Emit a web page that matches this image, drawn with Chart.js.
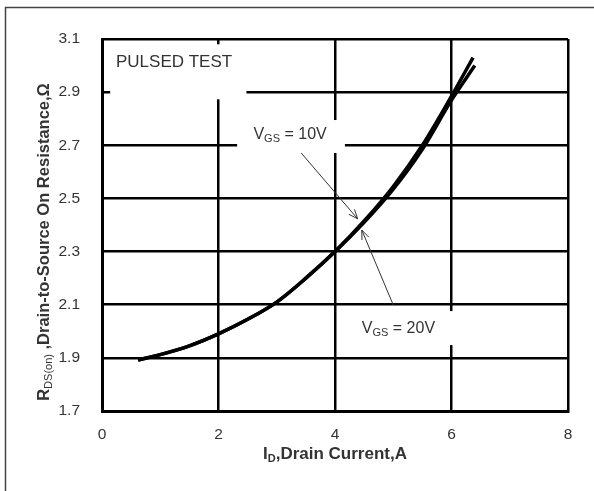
<!DOCTYPE html>
<html>
<head>
<meta charset="utf-8">
<script src="https://cdn.jsdelivr.net/npm/chart.js@4/dist/chart.umd.min.js"></script>
<style>
  html, body { margin: 0; padding: 0; background: #fff; }
  #wrap { width: 594px; height: 491px; }
</style>
</head>
<body>
<div id="wrap"><canvas id="chart" width="594" height="491"></canvas></div>
<script>
// Drain current (A) and on-resistance (ohm)
const currentVgs10 = [0.62, 1.0, 1.5, 2.0, 2.5, 3.0, 3.5, 4.0, 4.5, 5.0, 5.5, 6.0, 6.37]
const rdsVgs10 = [1.892, 1.912, 1.945, 1.99, 2.045, 2.11, 2.2, 2.3, 2.415, 2.545, 2.70, 2.885, 3.03]
const currentVgs20 = [0.62, 1.0, 1.5, 2.0, 2.5, 3.0, 3.5, 4.0, 4.5, 5.0, 5.5, 6.0, 6.40]
const rdsVgs20 = [1.892, 1.912, 1.945, 1.99, 2.045, 2.11, 2.2, 2.3, 2.41, 2.535, 2.685, 2.87, 3.00]

const xTicks = [0, 2, 4, 6, 8]
const yTicks = [1.7, 1.9, 2.1, 2.3, 2.5, 2.7, 2.9, 3.1]

const FONT = "'Liberation Sans', Arial, sans-serif"
const TEXT = '#333'

const toPoints = (xs, ys) => xs.map((x, i) => ({ x: x, y: ys[i] }))

// white boxes behind the labels, in data units (x0, x1, yTop, yBottom)
const labelBoxes = [
  [0.14, 2.48, 3.08, 2.873],
  [2.32, 4.17, 2.795, 2.671],
  [4.26, 6.11, 2.076, 1.948]
]

// arrows: tail -> tip, in data units
const arrows = [
  [[3.42, 2.671], [4.39, 2.423]],
  [[5.0, 2.099], [4.46, 2.381]]
]

// draws text made of pieces, some of them subscripts
function drawRich(ctx, parts, x, y) {
  let cx = x
  parts.forEach(p => {
    ctx.font = (p.bold ? 'bold ' : '') + p.size + 'px ' + FONT
    ctx.fillText(p.t, cx, y + (p.dy || 0))
    cx += ctx.measureText(p.t).width
  })
  return cx - x
}

function richWidth(ctx, parts) {
  let w = 0
  parts.forEach(p => {
    ctx.font = (p.bold ? 'bold ' : '') + p.size + 'px ' + FONT
    w += ctx.measureText(p.t).width
  })
  return w
}

function arrowHead(ctx, x0, y0, x1, y1) {
  const a = Math.atan2(y1 - y0, x1 - x0)
  const len = 10, spread = 0.38
  ctx.beginPath()
  ctx.moveTo(x1 - len * Math.cos(a - spread), y1 - len * Math.sin(a - spread))
  ctx.lineTo(x1, y1)
  ctx.lineTo(x1 - len * Math.cos(a + spread), y1 - len * Math.sin(a + spread))
  ctx.stroke()
}

const decorPlugin = {
  id: 'decor',
  beforeDraw(chart) {
    const ctx = chart.ctx
    ctx.save()
    ctx.fillStyle = '#fff'
    ctx.fillRect(0, 0, chart.width, chart.height)
    // outer frame, runs off the right and bottom edges
    ctx.strokeStyle = '#444'
    ctx.lineWidth = 1.5
    ctx.strokeRect(5.5, 7.5, 800, 800)
    ctx.restore()
  },
  beforeDatasetsDraw(chart) {
    const ctx = chart.ctx
    const xs = chart.scales.x, ys = chart.scales.y
    ctx.save()
    ctx.fillStyle = '#fff'
    labelBoxes.forEach(b => {
      const x0 = xs.getPixelForValue(b[0]), x1 = xs.getPixelForValue(b[1])
      const y0 = ys.getPixelForValue(b[2]), y1 = ys.getPixelForValue(b[3])
      ctx.fillRect(x0, y0, x1 - x0, y1 - y0)
    })
    ctx.restore()
  },
  afterDatasetsDraw(chart) {
    const ctx = chart.ctx
    const xs = chart.scales.x, ys = chart.scales.y
    ctx.save()
    ctx.fillStyle = TEXT
    ctx.textBaseline = 'alphabetic'
    ctx.textAlign = 'left'

    ctx.font = '17px ' + FONT
    ctx.fillText('PULSED TEST', xs.getPixelForValue(0.24), ys.getPixelForValue(2.995))

    drawRich(ctx, [
      { t: 'V', size: 16 },
      { t: 'GS', size: 11, dy: 3 },
      { t: ' = 10V', size: 16 }
    ], xs.getPixelForValue(2.6), ys.getPixelForValue(2.722))

    drawRich(ctx, [
      { t: 'V', size: 16 },
      { t: 'GS', size: 11, dy: 3 },
      { t: ' = 20V', size: 16 }
    ], xs.getPixelForValue(4.46), ys.getPixelForValue(1.995))

    ctx.strokeStyle = '#333'
    ctx.lineWidth = 1
    arrows.forEach(a => {
      const x0 = xs.getPixelForValue(a[0][0]), y0 = ys.getPixelForValue(a[0][1])
      const x1 = xs.getPixelForValue(a[1][0]), y1 = ys.getPixelForValue(a[1][1])
      ctx.beginPath()
      ctx.moveTo(x0, y0)
      ctx.lineTo(x1, y1)
      ctx.stroke()
      arrowHead(ctx, x0, y0, x1, y1)
    })
    ctx.restore()
  },
  afterDraw(chart) {
    const ctx = chart.ctx
    const area = chart.chartArea
    ctx.save()
    ctx.fillStyle = TEXT
    ctx.textAlign = 'left'
    ctx.textBaseline = 'alphabetic'

    // x axis title
    const xParts = [
      { t: 'I', size: 17, bold: true },
      { t: 'D', size: 11, bold: true, dy: 3 },
      { t: ',Drain Current,A', size: 17, bold: true }
    ]
    const xw = richWidth(ctx, xParts)
    drawRich(ctx, xParts, (area.left + area.right) / 2 - xw / 2, 459)

    // y axis title, rotated
    const yParts = [
      { t: 'R', size: 16.5, bold: true },
      { t: 'DS(on)', size: 11, bold: false, dy: 3 },
      { t: ' ,Drain-to-Source On Resistance,Ω', size: 16.5, bold: true }
    ]
    const yw = richWidth(ctx, yParts)
    ctx.translate(49, 242)
    ctx.rotate(-Math.PI / 2)
    drawRich(ctx, yParts, -yw / 2, 0)
    ctx.restore()
  }
}

const lineStyle = {
  showLine: true,
  borderColor: '#000',
  borderWidth: 3.5,
  pointRadius: 0,
  cubicInterpolationMode: 'monotone',
  fill: false
}

new Chart(document.getElementById('chart'), {
  type: 'scatter',
  data: {
    datasets: [
      Object.assign({ label: 'VGS = 10V', data: toPoints(currentVgs10, rdsVgs10) }, lineStyle),
      Object.assign({ label: 'VGS = 20V', data: toPoints(currentVgs20, rdsVgs20) }, lineStyle)
    ]
  },
  options: {
    responsive: false,
    animation: false,
    devicePixelRatio: 1,
    layout: { padding: { top: 39, right: 26, left: 0, bottom: 0 } },
    plugins: {
      legend: { display: false },
      tooltip: { enabled: false }
    },
    scales: {
      x: {
        type: 'linear',
        min: 0,
        max: 8,
        afterFit: s => { s.height = 80 },
        afterBuildTicks: s => { s.ticks = xTicks.map(v => ({ value: v })) },
        ticks: {
          color: TEXT,
          font: { family: FONT, size: 15.5 },
          padding: 14,
          maxRotation: 0,
          callback: v => String(v)
        },
        grid: { color: '#000', lineWidth: 2.5, drawTicks: false },
        border: { display: true, color: '#000', width: 3 }
      },
      y: {
        type: 'linear',
        min: 1.7,
        max: 3.1,
        afterFit: s => { s.width = 102 },
        afterBuildTicks: s => { s.ticks = yTicks.map(v => ({ value: v })) },
        ticks: {
          color: TEXT,
          font: { family: FONT, size: 15.5 },
          padding: 22,
          callback: v => Number(v).toFixed(1)
        },
        grid: { color: '#000', lineWidth: 2.5, drawTicks: false },
        border: { display: true, color: '#000', width: 3 }
      }
    }
  },
  plugins: [decorPlugin]
})
</script>
</body>
</html>
